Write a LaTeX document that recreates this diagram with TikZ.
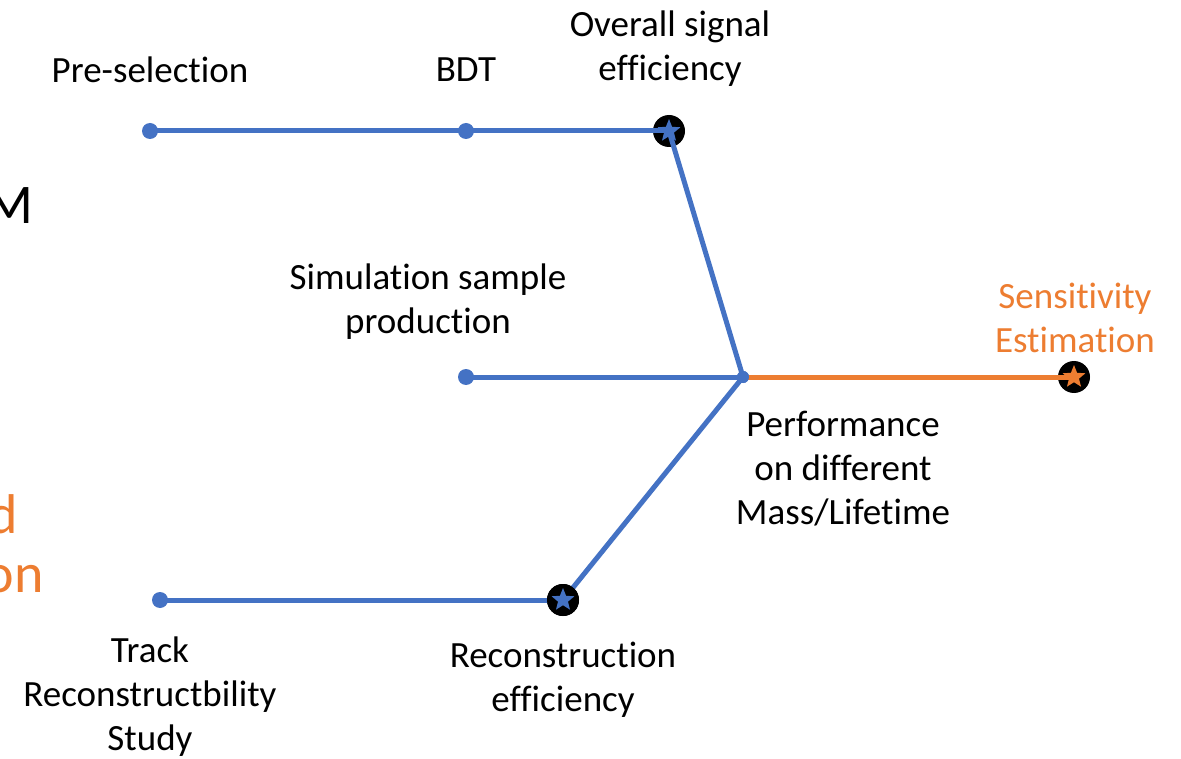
\documentclass[tikz,border=0pt]{standalone}
\usepackage{fontspec}
\setmainfont{Carlito}[Ligatures=NoCommon]
\usetikzlibrary{shapes.geometric}
\definecolor{lineblue}{HTML}{4472C4}
\definecolor{lineorange}{HTML}{ED7D31}
\tikzset{
    dot/.style = {circle, fill=lineblue, inner sep=0pt, minimum size=16pt},
    hubdot/.style = {circle, fill=lineblue, inner sep=0pt, minimum size=12pt},
    ring/.style = {circle, fill=black, inner sep=0pt, minimum size=32pt},
    starmark/.style = {star, star points=5, star point ratio=2.3, fill=#1, inner sep=0pt, minimum size=24pt},
    link/.style = {line width=5pt, draw=#1},
    tag/.style = {align=center, font=\fontsize{37}{44}\selectfont},
    cut/.style = {anchor=base east, inner sep=0pt, font=\fontsize{56}{64}\selectfont}
}
\begin{document}
\begin{tikzpicture}[x=1pt, y=-1pt]
    \useasboundingbox[fill=white] (0,0) rectangle (1181,759);
    % cut-off slide text on the left
    \node[cut] (lftm) at (34,224) {M};
    \node[cut, text=lineorange] (lftd) at (18,533) {d};
    \node[cut, text=lineorange] (lfton) at (44,592) {on};
    % points
    \node[dot] (presel) at (150,131) {};
    \node[dot] (bdt) at (466,131) {};
    \node[ring] (overall) at (669,131) {};
    \node[dot] (simu) at (466,377) {};
    \node[hubdot] (perf) at (743,377) {};
    \node[ring] (sens) at (1074,377) {};
    \node[dot] (track) at (160,600) {};
    \node[ring] (reco) at (563,600) {};
    % connectors
    \draw[link=lineblue] (presel.center) -- (bdt.center) -- (overall.center);
    \draw[link=lineblue] (simu.center) -- (perf.center);
    \draw[link=lineblue] (track.center) -- (reco.center);
    \draw[link=lineblue] (reco.center) -- (perf.center);
    \draw[link=lineorange] (perf.center) -- (sens.center);
    \draw[link=lineblue] (overall.center) -- (perf.center);
    \node[hubdot] at (perf) {};
    \node[ring] at (reco) {};
    \node[starmark=lineblue] (overallstar) at (overall) {};
    \node[starmark=lineblue] (recostar) at (reco) {};
    \node[starmark=lineorange] (sensstar) at (sens) {};
    % labels
    \node[tag] (preseltxt) at (150,70) {Pre-selection};
    \node[tag] (bdttxt) at (466,70) {BDT};
    \node[tag] (overalltxt) at (670,49) {Overall signal\\efficiency};
    \node[tag] (simutxt) at (428,302) {Simulation sample\\production};
    \node[tag, text=lineorange] (senstxt) at (1075,318) {Sensitivity\\Estimation};
    \node[tag] (perftxt) at (843,469) {Performance\\on different\\Mass/Lifetime};
    \node[tag] (tracktxt) at (150,697) {Track\\Reconstructbility\\Study};
    \node[tag] (recotxt) at (563,680) {Reconstruction\\efficiency};
\end{tikzpicture}
\end{document}
